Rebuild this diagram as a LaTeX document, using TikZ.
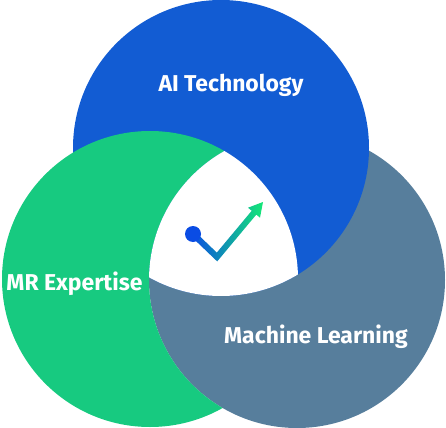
\documentclass[tikz,border=0pt]{standalone}
\usepackage{fontspec}
\setmainfont{Fira Sans}
\usepackage{tikz}

\definecolor{aiblue}{RGB}{18,92,211}
\definecolor{mrgreen}{RGB}{23,202,128}
\definecolor{mlslate}{RGB}{87,126,156}
\definecolor{checkblue}{RGB}{10,76,228}
\definecolor{checkgreen}{RGB}{20,232,118}

\tikzset{
  circlelabel/.style={color=white,font=\fontsize{17.2}{20}\selectfont\bfseries},
}

\begin{document}
\begin{tikzpicture}[x=0.75pt,y=0.75pt,yscale=-1,xscale=1]
\useasboundingbox (0,0) rectangle (446,428); %keep the margins of the 446 x 428 picture

%Shape: Circle [id:dp5830194417263] 
\fill [color=mlslate]  (297,280) circle (148) ;
%Shape: Circle [id:dp9034427716582] 
\fill [color=aiblue]  (221,148) circle (148) ;
%Shape: Circle, minus the slate one [id:dp2718810942135] 
\begin{scope}
\clip (150,279) circle (148) ;
\fill [color=mrgreen, even odd rule]  (0,0) rectangle (446,428) (297,280) circle (148) ;
\end{scope}
%Centre region [id:dp7725140096633] 
\begin{scope}
\clip (150,279) circle (148) ;
\clip (297,280) circle (148) ;
\fill [color=white]  (221,148) circle (148) ;
\end{scope}

%Check mark [id:dp4490213358172] 
\shade [left color=checkblue, right color=checkgreen]  (195.1,231.8) -- (216.8,252.6) -- (251.7,210.8) -- (248,207.7) -- (263,202) -- (260,217.7) -- (256.3,214.6) -- (217.2,261.4) -- (190.9,236.2) -- cycle ;
%Shape: Circle [id:dp8821046637715] 
\fill [color=checkblue]  (193,234) circle (8) ;

% Text Node
\draw (231,92) node (aitext) [anchor=base][inner sep=0.75pt]  [circlelabel]  {AI Technology};
% Text Node
\draw (74.5,290.5) node (mrtext) [anchor=base][inner sep=0.75pt]  [circlelabel]  {MR Expertise};
% Text Node
\draw (316,343.7) node (mltext) [anchor=base][inner sep=0.75pt]  [circlelabel]  {Machine Learning};

\end{tikzpicture}
\end{document}
